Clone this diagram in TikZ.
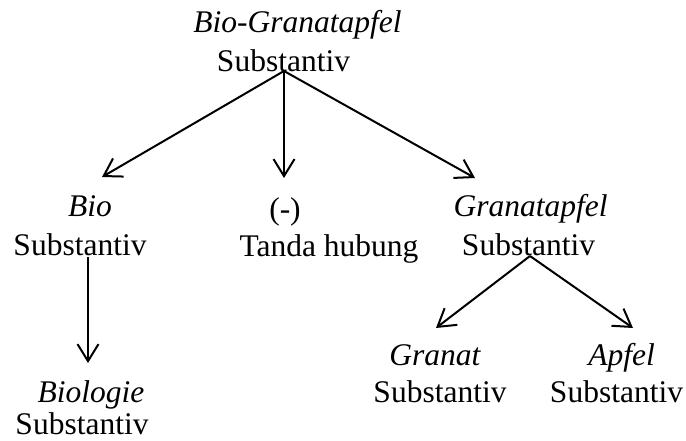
\documentclass[tikz,border=0pt]{standalone}
\usepackage{fontspec}
\setmainfont{Liberation Serif}
\usetikzlibrary{arrows.meta}
\begin{document}
\begin{tikzpicture}[x=1pt,y=-1pt,
  txt/.style={inner sep=0pt,anchor=base,font=\fontsize{31.5}{37}\selectfont},
  itxt/.style={txt,font=\fontsize{31.5}{37}\selectfont\itshape},
  arr/.style={line width=2pt,-{Straight Barb[length=17pt,width=21pt,line width=2pt]}}]
\useasboundingbox (0,0) rectangle (686,441);
% top
\node[itxt] (t1) at (297.5,33) {Bio-Granatapfel};
\node[txt] (t1s) at (283.5,72) {Substantiv};
% level 2
\node[itxt] (b1) at (90,217) {Bio};
\node[txt] (b1s) at (80,255) {Substantiv};
\node[txt] (h1) at (285,219) {(-)};
\node[txt] (h1s) at (329,256) {Tanda hubung};
\node[itxt] (g1) at (530.5,217) {Granatapfel};
\node[txt] (g1s) at (528.5,255) {Substantiv};
% level 3
\node[itxt] (bl) at (91,402) {Biologie};
\node[txt] (bls) at (82,434.5) {Substantiv};
\node[itxt] (gr) at (435,365) {Granat};
\node[txt] (grs) at (440,402) {Substantiv};
\node[itxt] (ap) at (621.5,365) {Apfel};
\node[txt] (aps) at (616.5,402) {Substantiv};
% connector points
\coordinate (s0) at (284,71);
\coordinate (e1) at (102,177);
\coordinate (e2) at (284,178);
\coordinate (e3) at (475,178);
\coordinate (s1) at (88,257);
\coordinate (e4) at (88,363);
\coordinate (s2) at (530,256);
\coordinate (e5) at (436,328);
\coordinate (e6) at (633,328);
\draw[arr] (s0) -- (e1);
\draw[arr] (s0) -- (e2);
\draw[arr] (s0) -- (e3);
\draw[arr] (s1) -- (e4);
\draw[arr] (s2) -- (e5);
\draw[arr] (s2) -- (e6);
\end{tikzpicture}
\end{document}
